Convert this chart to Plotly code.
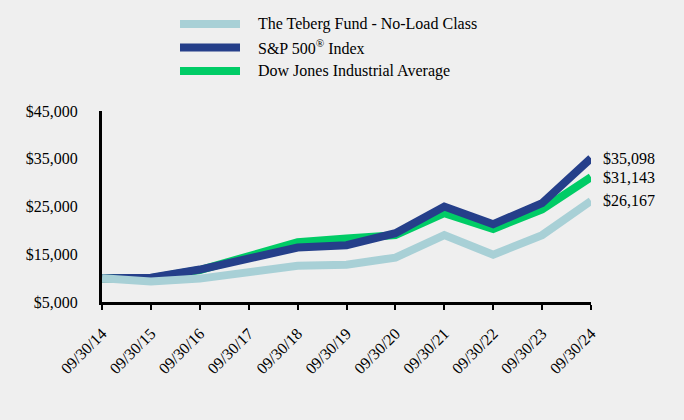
import plotly.graph_objects as go

dates = ["09/30/14", "09/30/15", "09/30/16", "09/30/17", "09/30/18", "09/30/19",
         "09/30/20", "09/30/21", "09/30/22", "09/30/23", "09/30/24"]
fund = [10000, 9300, 9900, 11300, 12600, 12800, 14300, 19000, 14900, 19000, 26167]
sp500 = [10000, 10100, 11800, 14200, 16400, 16900, 19400, 25000, 21300, 25700, 35098]
djia = [10000, 10000, 11700, 14700, 17500, 18300, 19000, 23600, 20300, 24400, 31143]
y_ticks = [5000, 15000, 25000, 35000, 45000]
legend_names = ["The Teberg Fund - No-Load Class", "S&P 500<sup>®</sup> Index",
                "Dow Jones Industrial Average"]

FONT = "Liberation Serif, Times New Roman, serif"
BG = "#efefef"
C_FUND = "#a8d0d6"
C_SP = "#253f8a"
C_DJ = "#00cc66"

W, H = 684, 420
ML, MR, MT, MB = 102, 93, 111, 118
PW, PH = W - ML - MR, H - MT - MB


def px2paper_x(px):
    return (px - ML) / PW


def px2paper_y(py):
    return (H - MB - py) / PH


x = list(range(len(dates)))
fig = go.Figure()
fig.add_trace(go.Scatter(x=x, y=djia, mode="lines", name=legend_names[2],
                         line=dict(color=C_DJ, width=8), showlegend=False))
fig.add_trace(go.Scatter(x=x, y=sp500, mode="lines", name=legend_names[1],
                         line=dict(color=C_SP, width=8), showlegend=False))
fig.add_trace(go.Scatter(x=x, y=fund, mode="lines", name=legend_names[0],
                         line=dict(color=C_FUND, width=8), showlegend=False))

for series in (sp500, djia, fund):
    v = series[-1]
    fig.add_annotation(x=x[-1], y=v, text=f"${v:,}", showarrow=False, xanchor="left",
                       xshift=10, font=dict(family=FONT, size=16, color="#000"))

# legend (drawn manually to match the reference layout)
rows_y = [24, 47.5, 71]
for name, col, ry in zip(legend_names, (C_FUND, C_SP, C_DJ), rows_y):
    fig.add_shape(type="line", xref="paper", yref="paper",
                  x0=px2paper_x(180), x1=px2paper_x(240),
                  y0=px2paper_y(ry), y1=px2paper_y(ry),
                  line=dict(color=col, width=8))
    fig.add_annotation(xref="paper", yref="paper", x=px2paper_x(256), y=px2paper_y(ry),
                       text=name, showarrow=False, xanchor="left", yanchor="middle",
                       font=dict(family=FONT, size=16, color="#000"))

fig.update_layout(
    width=W, height=H,
    paper_bgcolor=BG, plot_bgcolor=BG,
    margin=dict(l=ML, r=MR, t=MT, b=MB),
    font=dict(family=FONT, size=16, color="#000"),
    showlegend=False,
)
fig.update_xaxes(range=[0, 10], tickvals=x, ticktext=dates, tickangle=-45,
                 showline=True, linecolor="#000", linewidth=3, showgrid=False,
                 zeroline=False, ticks="outside", ticklen=5, tickwidth=2, tickcolor="#000",
                 tickfont=dict(family=FONT, size=16), automargin=False,
                 ticklabelstandoff=8)
fig.update_yaxes(range=[5000, 45000], tickvals=y_ticks, tickformat="$,.0f",
                 showline=True, linecolor="#000", linewidth=3, showgrid=False,
                 zeroline=False, ticks="", tickfont=dict(family=FONT, size=16),
                 automargin=False, ticklabelstandoff=18)

fig.write_html("out.html", config={"displayModeBar": False},
               post_script="document.body.style.margin='0';"
                           "document.body.style.background='" + BG + "';")
